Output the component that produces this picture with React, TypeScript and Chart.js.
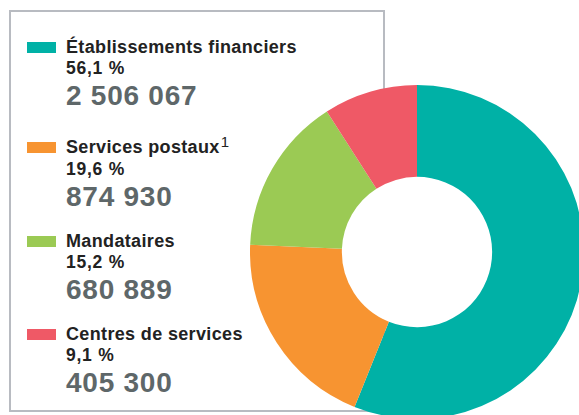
import React, { useEffect, useRef } from "react";
import { Chart, registerables } from "chart.js";

Chart.register(...registerables);

const categories = ["Établissements financiers", "Services postaux", "Mandataires", "Centres de services"];
const footnotes = ["", "1", "", ""];
const percentLabels = ["56,1 %", "19,6 %", "15,2 %", "9,1 %"];
const valueLabels = ["2 506 067", "874 930", "680 889", "405 300"];
const values = [2506067, 874930, 680889, 405300];
const colors = ["#00b1a6", "#f79431", "#9bca54", "#ef5966"];

const holePlugin = {
  id: "holeFill",
  beforeDatasetsDraw(chart: any) {
    const meta = chart.getDatasetMeta(0);
    const arc = meta.data[0];
    if (!arc) return;
    const { x, y, innerRadius } = arc.getProps(["x", "y", "innerRadius"], true);
    const ctx = chart.ctx;
    ctx.save();
    ctx.fillStyle = "#ffffff";
    ctx.beginPath();
    ctx.arc(x, y, innerRadius + 0.5, 0, Math.PI * 2);
    ctx.fill();
    ctx.restore();
  },
};

export default function App() {
  const canvasRef = useRef<HTMLCanvasElement | null>(null);

  useEffect(() => {
    if (!canvasRef.current) return;
    const chart = new Chart(canvasRef.current, {
      type: "doughnut",
      data: {
        labels: categories,
        datasets: [
          {
            data: values,
            backgroundColor: colors,
            borderWidth: 0,
          },
        ],
      },
      options: {
        responsive: false,
        animation: false,
        cutout: "45%",
        layout: { padding: 0 },
        plugins: {
          legend: { display: false },
          tooltip: { enabled: false },
        },
      },
      plugins: [holePlugin],
    });
    return () => chart.destroy();
  }, []);

  const font = '"Liberation Sans", Arial, sans-serif';

  return (
    <div
      style={{
        position: "fixed",
        left: 0,
        top: 0,
        width: 579,
        height: 415,
        overflow: "hidden",
        background: "#ffffff",
        fontFamily: font,
      }}
    >
      <div
        style={{
          position: "absolute",
          left: 9,
          top: 10,
          width: 372,
          height: 398,
          border: "2px solid #b8bbc1",
        }}
      />
      <div style={{ position: "absolute", left: 0, top: 36, width: 320 }}>
        {categories.map((c, i) => (
          <div
            key={c}
            style={{
              position: "relative",
              paddingTop: footnotes[i] ? 6.5 : 0,
              marginBottom: 16.5,
            }}
          >
            <div
              style={{
                position: "absolute",
                left: 27,
                top: (footnotes[i] ? 6.5 : 0) + 6,
                width: 29,
                height: 11,
                background: colors[i],
              }}
            />
            <div style={{ marginLeft: 66, whiteSpace: "nowrap" }}>
              <div style={{ fontSize: 18, lineHeight: "22px", fontWeight: 700, color: "#222222", letterSpacing: 0.35 }}>
                {c}
                {footnotes[i] ? (
                  <span style={{ fontSize: 15, fontWeight: 400, position: "relative", top: -6, marginLeft: 1, letterSpacing: 0 }}>
                    {footnotes[i]}
                  </span>
                ) : null}
              </div>
              <div style={{ fontSize: 17.5, lineHeight: "21px", fontWeight: 700, color: "#222222", letterSpacing: 0.75 }}>
                {percentLabels[i]}
              </div>
              <div style={{ fontSize: 28, lineHeight: "33.5px", fontWeight: 700, color: "#5e6769", letterSpacing: 0.75 }}>
                {valueLabels[i]}
              </div>
            </div>
          </div>
        ))}
      </div>
      <canvas
        ref={canvasRef}
        width={334}
        height={334}
        style={{ position: "absolute", left: 250, top: 85, width: 334, height: 334 }}
      />
    </div>
  );
}
